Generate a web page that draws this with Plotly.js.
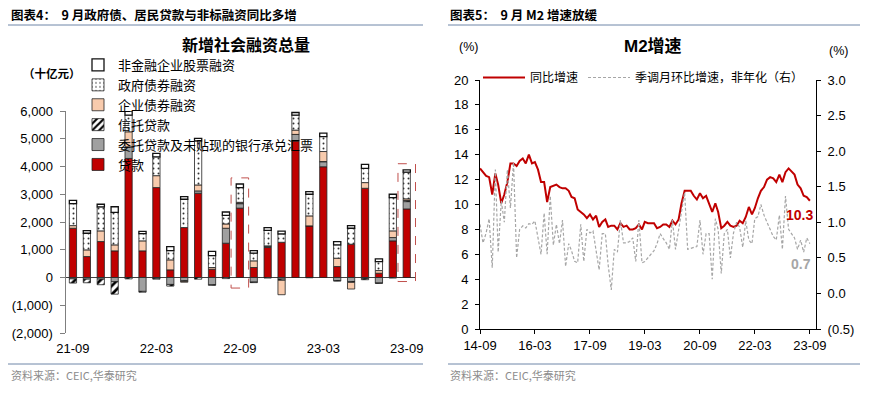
<!DOCTYPE html>
<html><head><meta charset="utf-8">
<script src="https://cdn.plot.ly/plotly-3.0.1.min.js"></script>
<style>html,body{margin:0;padding:0;background:#fff}#chart{width:883px;height:395px}</style>
</head><body><div id="chart"></div>
<script>
// ---------- Left chart data (十亿元) ----------
const months = ['21-09','21-10','21-11','21-12','22-01','22-02','22-03','22-04','22-05','22-06','22-07','22-08','22-09','22-10','22-11','22-12','23-01','23-02','23-03','23-04','23-05','23-06','23-07','23-08','23-09'];
const loans     = [1775, 755,1295, 960,4290, 960,3240, 275,1800,3035, 300,1235,2500, 360,1080,1270,4916,1860,3990, 395,1200,3215, 155,1320,2470];
const entrusted = [ -50, -60, -60,-150, 420,-500, -30,-250,-120,  85,-260, 540, 160,-165,  50, -60, 240, -10, 180,-110,-145, -40,-200, 120, 265];
const trust     = [-150,-130,-200,-450, -50, -30, -30, -60, -20, -60, -20, -40,  20, -20, -20, -40,   0,   0,  10, -20, -30, -40, -10, -20,  40];
const corpBonds = [  95, 240, 385, 215, 540, 360, 430, 360, -30, 215,  60, 155,  30, 240,  10,-520, 155, 360, 360, 300,-240, 205,  95, 240,  60];
const govBonds  = [ 790, 600, 865,1175, 600, 260, 680, 335,1020,1585, 430, 310, 530, 275, 560, 300, 540, 780, 540, 480, 575, 515, 325,1200, 960];
const equity    = [ 120,  95,  95, 200, 150,  80, 120, 140,  95,  95, 150, 120, 130,  95,  95, 100,  95,  95, 120, 120,  95, 145,  95, 120,  85];
const leftXTicks = ['21-09','22-03','22-09','23-03','23-09'];
const leftYTickVals = [-2000,-1000,0,1000,2000,3000,4000,5000,6000];
const leftYTickText = ['(2,000)','(1,000)','0','1,000','2,000','3,000','4,000','5,000','6,000'];
const highlighted = ['22-09','23-09'];
const highlightLow = [-380,-145];

// ---------- Right chart data (%) ----------
const m2Start = [2014, 9];
const m2Yoy = [12.9,12.6,12.3,12.2,
 10.8,12.5,11.6,10.1,10.8,11.8,13.3,13.3,13.1,13.5,13.7,13.3,
 14.0,13.3,13.4,12.8,11.8,11.8,10.2,11.4,11.5,11.6,11.4,11.3,
 11.3,11.1,10.6,10.5,9.6,9.4,9.2,8.9,9.2,8.8,9.1,8.2,
 8.6,8.8,8.2,8.3,8.3,8.0,8.5,8.2,8.3,8.0,8.0,8.1,
 8.4,8.0,8.6,8.5,8.5,8.5,8.1,8.2,8.4,8.4,8.2,8.7,
 8.4,8.8,10.1,11.1,11.1,11.1,10.7,10.4,10.9,10.5,10.7,10.1,
 9.4,10.1,9.4,8.1,8.3,8.6,8.3,8.2,8.3,8.7,8.5,9.0,
 9.8,9.2,9.7,10.5,11.1,11.4,12.0,12.2,12.1,11.8,12.4,11.8,
 12.6,12.9,12.7,12.4,11.6,11.3,10.7,10.6,10.3];
const m2Mom = [0.97,0.71,0.85,1.05,0.36,1.74,0.58,1.30,1.00,1.74,
 1.20,1.84,0.50,0.90,0.95,0.92,0.98,0.97,1.02,0.80,
 0.55,1.13,0.55,1.37,0.68,0.97,0.70,1.03,0.38,0.70,
 0.60,0.45,0.43,0.97,0.45,0.90,0.85,0.88,0.60,0.33,
 0.84,0.84,0.40,0.05,0.62,0.58,1.03,0.71,0.71,0.73,
 0.78,0.45,1.03,0.43,0.45,0.50,0.55,0.60,0.70,0.84,
 0.77,0.71,0.62,1.03,0.62,0.90,1.10,1.42,0.62,0.63,
 0.65,0.66,1.03,0.55,0.84,0.84,0.20,1.05,0.90,0.28,
 0.84,0.90,0.50,0.85,1.00,0.93,0.65,1.02,0.75,0.70,
 1.05,1.08,1.25,1.10,1.00,0.90,0.80,0.75,1.10,0.62,
 1.37,0.90,0.85,0.78,0.62,0.75,0.58,0.78,0.70];
const rightXTickDates = ['2014-09-01','2016-03-01','2017-09-01','2019-03-01','2020-09-01','2022-03-01','2023-09-01'];
const rightXTickText = ['14-09','16-03','17-09','19-03','20-09','22-03','23-09'];
const rightY1Ticks = [0,2,4,6,8,10,12,14,16,18,20];
const rightY2Vals = [-0.5,0,0.5,1,1.5,2,2.5,3];
const rightY2Text = ['(0.5)','0.0','0.5','1.0','1.5','2.0','2.5','3.0'];

// dates for M2 series
const m2Dates = m2Yoy.map((_, i) => {
  const t = m2Start[0]*12 + (m2Start[1]-1) + i;
  const y = Math.floor(t/12), m = t%12 + 1;
  return y + '-' + String(m).padStart(2,'0') + '-01';
});

const FONT = 'Liberation Sans, Arial, Noto Sans CJK SC, sans-serif';
const CJK = 'Noto Sans CJK SC, Liberation Sans, sans-serif';
const outline = {color:'#222', width:0.8};

const traces = [
  {type:'bar', name:'贷款', x:months, y:loans, marker:{color:'#C00000', line:outline}, legend:'legend'},
  {type:'bar', name:'委托贷款及未贴现的银行承兑汇票', x:months, y:entrusted, marker:{color:'#A0A0A0', line:outline}, legend:'legend'},
  {type:'bar', name:'信托贷款', x:months, y:trust, marker:{color:'white', line:outline, pattern:{shape:'/', fgcolor:'black', bgcolor:'white', size:6, solidity:0.45}}, legend:'legend'},
  {type:'bar', name:'企业债券融资', x:months, y:corpBonds, marker:{color:'#F8CBAD', line:outline}, legend:'legend'},
  {type:'bar', name:'政府债券融资', x:months, y:govBonds, marker:{color:'white', line:outline, pattern:{shape:'.', fgcolor:'#333', bgcolor:'white', size:5, solidity:0.12}}, legend:'legend'},
  {type:'bar', name:'非金融企业股票融资', x:months, y:equity, marker:{color:'white', line:{color:'#111', width:1.3}}, legend:'legend'},
  {type:'scatter', mode:'lines', name:'同比增速', x:m2Dates, y:m2Yoy, xaxis:'x2', yaxis:'y2', line:{color:'#C00000', width:2}, legend:'legend2'},
  {type:'scatter', mode:'lines', name:'季调月环比增速，非年化（右）', x:m2Dates, y:m2Mom, xaxis:'x2', yaxis:'y3', line:{color:'#A6A6A6', width:1.2, dash:'3px,2px'}, legend:'legend2'}
];

// highlight boxes derived from data
const shapes = [];
highlighted.forEach((c, k) => {
  const i = months.indexOf(c);
  const top = loans[i] + Math.max(entrusted[i],0) + Math.max(trust[i],0) + Math.max(corpBonds[i],0) + govBonds[i] + equity[i];
  shapes.push({type:'rect', xref:'x', yref:'y', x0:i-0.63, x1:i+0.63, y0:highlightLow[k], y1:top+220,
    line:{color:'#C0504D', width:1, dash:'dash'}, fillcolor:'rgba(0,0,0,0)'});
});
// header / footer rules
[[8,423],[448,860]].forEach(([a,b]) => {
  shapes.push({type:'line', xref:'paper', yref:'paper', x0:a/883, x1:b/883, y0:1-25/395, y1:1-25/395, line:{color:'#6F86A8', width:1}});
  shapes.push({type:'line', xref:'paper', yref:'paper', x0:a/883, x1:b/883, y0:1-364/395, y1:1-364/395, line:{color:'#6F86A8', width:1}});
});

function px(x){return x/883;}
function py(y){return 1-y/395;}
const ann = (text, x, y, opts={}) => Object.assign({text, xref:'paper', yref:'paper', x:px(x), y:py(y), showarrow:false, xanchor:'left', yanchor:'middle', font:{family:CJK, size:12, color:'#000'}}, opts);

const last = m2Yoy.length - 1;
const annotations = [
  ann('<b>图表4：  9 月政府债、居民贷款与非标融资同比多增</b>', 9, 15, {font:{family:CJK, size:12.5, color:'#000'}}),
  ann('<b>图表5：  9 月 M2 增速放缓</b>', 448, 15, {font:{family:CJK, size:12.5, color:'#000'}}),
  ann('<b>新增社会融资总量</b>', 246, 44, {xanchor:'center', font:{family:CJK, size:16, color:'#000'}}),
  ann('<b>M2增速</b>', 653, 47, {xanchor:'center', font:{family:FONT, size:17, color:'#000'}}),
  ann('<b>（十亿元）</b>', 52, 73, {xanchor:'center', font:{family:CJK, size:11.5, color:'#000'}}),
  ann('(%)', 469, 47, {xanchor:'center', font:{family:FONT, size:12.5, color:'#000'}}),
  ann('(%)', 838, 51, {xanchor:'center', font:{family:FONT, size:12.5, color:'#000'}}),
  ann('资料来源：CEIC,华泰研究', 9, 375, {font:{family:CJK, size:11, color:'#8C8C8C'}}),
  ann('资料来源：CEIC,华泰研究', 448, 375, {font:{family:CJK, size:11, color:'#8C8C8C'}}),
  {text:'<b>'+m2Yoy[last].toFixed(1)+'</b>', x:m2Dates[last], y:m2Yoy[last], xref:'x2', yref:'y2', showarrow:false, xshift:-10, yshift:-14, font:{family:FONT, size:14, color:'#C00000'}},
  {text:'<b>'+m2Mom[last].toFixed(1)+'</b>', x:m2Dates[last], y:m2Mom[last], xref:'x2', yref:'y3', showarrow:false, xshift:-9, yshift:-20, font:{family:FONT, size:14, color:'#A6A6A6'}}
];

const axisFont = {family:FONT, size:13, color:'#000'};
const layout = {
  width:883, height:395, margin:{l:0,r:0,t:0,b:0},
  paper_bgcolor:'white', plot_bgcolor:'rgba(0,0,0,0)',
  barmode:'relative', bargap:0.48,
  font:{family:FONT, size:12, color:'#000'},
  xaxis:{domain:[px(66), px(416)], anchor:'y', type:'category', tickvals:leftXTicks, ticktext:leftXTicks, ticks:'', showline:false, showgrid:false, tickfont:axisFont, ticklabelstandoff:6, fixedrange:true},
  yaxis:{domain:[py(333), py(111)], anchor:'x', range:[-2000,6000], tickvals:leftYTickVals, ticktext:leftYTickText, showline:true, linecolor:'#7F7F7F', linewidth:1.5, ticks:'outside', ticklen:5, tickcolor:'#7F7F7F', showgrid:false, zeroline:true, zerolinecolor:'#404040', zerolinewidth:1, tickfont:axisFont, ticklabelstandoff:4},
  xaxis2:{domain:[px(480), px(816)], anchor:'y2', type:'date', range:['2014-09-01','2023-11-01'], tickvals:rightXTickDates, ticktext:rightXTickText, ticks:'outside', ticklen:4, tickcolor:'#000', showline:true, linecolor:'#000', linewidth:1, showgrid:false, zeroline:false, tickfont:axisFont},
  yaxis2:{domain:[py(329), py(80)], anchor:'x2', range:[0,20], tickvals:rightY1Ticks, ticks:'outside', ticklen:4, tickcolor:'#000', showline:true, linecolor:'#000', linewidth:1, showgrid:false, zeroline:false, tickfont:axisFont, ticklabelstandoff:4},
  yaxis3:{overlaying:'y2', anchor:'x2', side:'right', range:[-0.5,3], tickvals:rightY2Vals, ticktext:rightY2Text, ticks:'outside', ticklen:4, tickcolor:'#000', showline:true, linecolor:'#000', linewidth:1, showgrid:false, zeroline:false, tickfont:axisFont, ticklabelstandoff:4},
  legend:{x:px(78), y:py(50), xanchor:'left', yanchor:'top', traceorder:'reversed', bgcolor:'rgba(0,0,0,0)', font:{family:CJK, size:13, color:'#000'}, tracegroupgap:0, itemclick:false},
  legend2:{orientation:'h', x:px(478), y:py(63), xanchor:'left', yanchor:'top', bgcolor:'rgba(0,0,0,0)', font:{family:CJK, size:12, color:'#000'}, itemwidth:42, itemclick:false},
  shapes, annotations, showlegend:true
};
Plotly.newPlot('chart', traces, layout, {displayModeBar:false, staticPlot:true});
</script></body></html>
